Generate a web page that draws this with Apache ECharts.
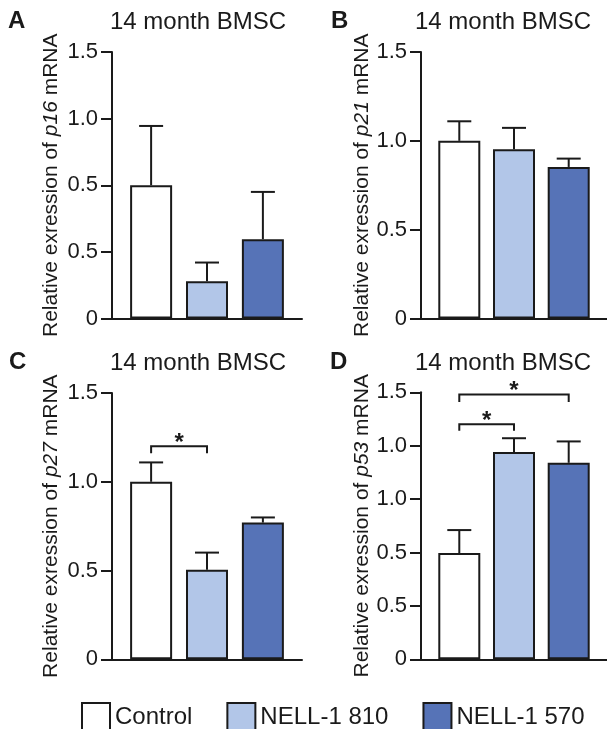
<!DOCTYPE html>
<html>
<head>
<meta charset="utf-8">
<script src="https://cdn.jsdelivr.net/npm/echarts@6/dist/echarts.min.js"></script>
<style>
html, body { margin: 0; padding: 0; background: #fff; }
#main { width: 607px; height: 729px; }
</style>
</head>
<body>
<div id="main"></div>
<script>
// 数据
var groups = ['Control', 'NELL-1 810', 'NELL-1 570'];
var colors = ['#ffffff', '#b2c6e8', '#5673b7'];

var p16Mean = [1.0, 0.28, 0.595];
var p16Sem = [0.445, 0.14, 0.355];
var p21Mean = [1.0, 0.953, 0.853];
var p21Sem = [0.11, 0.12, 0.047];
var p27Mean = [1.0, 0.504, 0.77];
var p27Sem = [0.109, 0.097, 0.029];
var p53Mean = [0.995, 1.94, 1.84];
var p53Sem = [0.215, 0.13, 0.20];

// 刻度标签 (照原图)
var ticksA = ['0', '0.5', '0.5', '1.0', '1.5'];
var ticksB = ['0', '0.5', '1.0', '1.5'];
var ticksC = ['0', '0.5', '1.0', '1.5'];
var ticksD = ['0', '0.5', '0.5', '1.0', '1.0', '1.5'];

// 显著性标记: [起, 止, 横线高度, 端点高度]
var p27Sig = [[1, 2, 1.2, 1.16]];
var p53Sig = [[1, 2, 2.2, 2.14], [1, 3, 2.48, 2.41]];

var font = 'Liberation Sans, Arial, Helvetica, sans-serif';
var ink = '#1a1a1a';

var chart = echarts.init(document.getElementById('main'));

var panels = [
    { letter: 'A', gene: 'p16', mean: p16Mean, sem: p16Sem, ticks: ticksA, grid: { left: 112, top: 52, width: 190, height: 266.5 }, gap: 50, titleX: 198, titleY: 22.5, letterX: 8 },
    { letter: 'B', gene: 'p21', mean: p21Mean, sem: p21Sem, ticks: ticksB, grid: { left: 421, top: 52, width: 190, height: 266.5 }, gap: 47, titleX: 503, titleY: 22.5, letterX: 331 },
    { letter: 'C', gene: 'p27', mean: p27Mean, sem: p27Sem, ticks: ticksC, grid: { left: 112, top: 393, width: 190, height: 266.3 }, gap: 50, titleX: 198, titleY: 363.3, letterX: 9, sig: p27Sig },
    { letter: 'D', gene: 'p53', mean: p53Mean, sem: p53Sem, ticks: ticksD, grid: { left: 421, top: 392.3, width: 190, height: 267 }, gap: 47, titleX: 503, titleY: 363.3, letterX: 330, sig: p53Sig }
];

var grids = [], xAxes = [], yAxes = [], series = [], graphics = [];

panels.forEach(function (p, k) {
    grids.push(p.grid);
    xAxes.push({
        gridIndex: k, type: 'value', min: 0.3, max: 3.7,
        axisLine: { show: true, onZero: false, lineStyle: { color: ink, width: 2 } },
        axisTick: { show: false }, axisLabel: { show: false }, splitLine: { show: false }
    });
    var labels = p.ticks;
    yAxes.push({
        gridIndex: k, type: 'value', min: 0, max: (labels.length - 1) * 0.5, interval: 0.5,
        axisLine: { show: true, lineStyle: { color: ink, width: 2 } },
        axisTick: { show: true, length: 11, lineStyle: { color: ink, width: 2 } },
        splitLine: { show: false },
        axisLabel: {
            fontSize: 22, fontFamily: font, color: ink, margin: 14,
            formatter: function (v) { return labels[Math.round(v / 0.5)]; }
        },
        name: 'Relative exression of {i|' + p.gene + '} mRNA',
        nameLocation: 'middle', nameGap: p.gap,
        nameTextStyle: {
            fontSize: 21, fontFamily: font, color: ink,
            rich: { i: { fontStyle: 'italic', fontSize: 21, fontFamily: font, color: ink } }
        }
    });

    // 柱子
    for (var i = 0; i < groups.length; i++) {
        series.push({
            name: groups[i], type: 'bar', xAxisIndex: k, yAxisIndex: k,
            barWidth: 42, barGap: '-100%',
            itemStyle: { color: colors[i], borderColor: ink, borderWidth: 2 },
            data: [[i + 1, p.mean[i]]],
            z: 3
        });
    }

    // 误差线
    var errData = p.mean.map(function (m, i) { return [i + 1, m, m + p.sem[i]]; });
    series.push({
        type: 'custom', xAxisIndex: k, yAxisIndex: k, data: errData, z: 2, silent: true,
        renderItem: function (params, api) {
            var a = api.coord([api.value(0), api.value(1)]);
            var b = api.coord([api.value(0), api.value(2)]);
            var st = { stroke: ink, lineWidth: 2 };
            return {
                type: 'group',
                children: [
                    { type: 'line', shape: { x1: a[0], y1: a[1], x2: b[0], y2: b[1] }, style: st },
                    { type: 'line', shape: { x1: b[0] - 12, y1: b[1], x2: b[0] + 12, y2: b[1] }, style: st }
                ]
            };
        }
    });

    // 显著性括号
    if (p.sig) {
        series.push({
            type: 'custom', xAxisIndex: k, yAxisIndex: k, data: p.sig, z: 4, silent: true, clip: false,
            renderItem: function (params, api) {
                var l = api.coord([api.value(0), api.value(2)]);
                var r = api.coord([api.value(1), api.value(2)]);
                var tip = api.coord([api.value(0), api.value(3)]);
                return {
                    type: 'group',
                    children: [
                        { type: 'polyline', shape: { points: [[l[0], tip[1]], l, r, [r[0], tip[1]]] }, style: { stroke: ink, lineWidth: 2, fill: null } },
                        { type: 'text', x: (l[0] + r[0]) / 2, y: l[1] - 3, style: { text: '*', fontSize: 24, fontWeight: 'bold', fontFamily: font, fill: ink, align: 'center', verticalAlign: 'middle' } }
                    ]
                };
            }
        });
    }

    // 标题和面板字母
    graphics.push({
        type: 'text', x: p.titleX, y: p.titleY,
        style: { text: '14 month BMSC', fontSize: 24, fontFamily: font, fill: ink, align: 'center', verticalAlign: 'middle' }
    });
    graphics.push({
        type: 'text', x: p.letterX, y: p.titleY - 1,
        style: { text: p.letter, fontSize: 24, fontWeight: 'bold', fontFamily: font, fill: ink, align: 'left', verticalAlign: 'middle' }
    });
});

var option = {
    animation: false,
    grid: grids,
    xAxis: xAxes,
    yAxis: yAxes,
    legend: {
        data: groups, left: 76, top: 697, icon: 'rect', itemWidth: 28, itemHeight: 28, itemGap: 34,
        selectedMode: false,
        itemStyle: { borderColor: ink, borderWidth: 2 },
        textStyle: { fontSize: 24, fontFamily: font, color: ink }
    },
    graphic: graphics,
    series: series
};

chart.setOption(option);
</script>
</body>
</html>
